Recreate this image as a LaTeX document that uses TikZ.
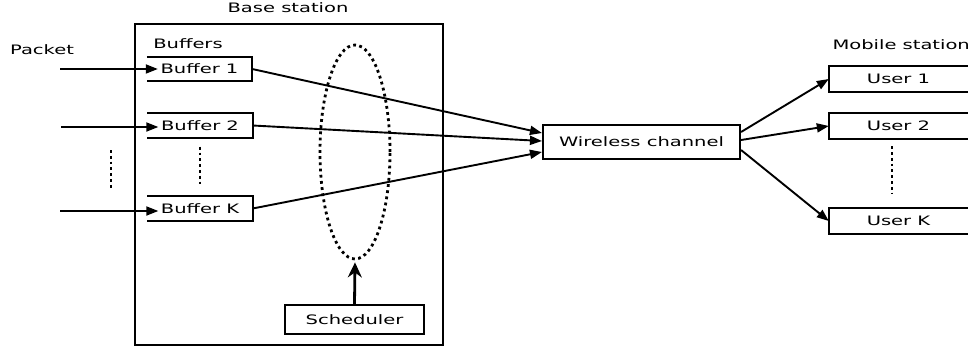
\documentclass[tikz,border=0pt]{standalone}
\usepackage{fontspec}
\setmainfont{DejaVu Sans}[FakeStretch=1.5]
\usetikzlibrary{arrows.meta,positioning,shapes.geometric}

\begin{document}
\begin{tikzpicture}[
    x=1pt, y=-1pt,
    font=\fontsize{13}{15}\selectfont,
    plainbox/.style={draw, line width=2.1pt, inner sep=0pt},
    bufbox/.style={inner sep=0pt, minimum width=105pt, minimum height=24pt},
    userbox/.style={inner sep=0pt, minimum width=139pt, minimum height=26pt},
    arrow/.style={-{Triangle[length=12pt,width=9pt]}, line width=1.9pt},
    vdots/.style={line width=2.8pt, dash pattern=on 2.8pt off 3pt}
]
\useasboundingbox (0,0) rectangle (968,350);

% base station
\node[plainbox, line width=2.5pt, minimum width=308pt, minimum height=321pt] (bs) at (289,184.5) {};
\node (bslabel) at (288,8) {Base station};
\node (packet) at (42,50) {Packet};
\node (buffers) at (188,44) {Buffers};

% buffers (open on the left)
\node[bufbox] (b1) at (199.5,69) {Buffer 1};
\node[bufbox] (b2) at (200,125.5) {Buffer 2};
\node[bufbox] (bK) at (200,208.5) {Buffer K};
\foreach \b in {b1,b2,bK}
  \draw[line width=2.1pt] (\b.north west) -- (\b.north east) -- (\b.south east) -- (\b.south west);

% scheduler
\node[ellipse, draw, line width=2.8pt, dash pattern=on 2.8pt off 3.4pt,
      minimum width=70pt, minimum height=214pt, inner sep=0pt] (sel) at (355,152) {};
\node[plainbox, minimum width=139pt, minimum height=29pt] (sched) at (354.5,319.5) {Scheduler};
\draw[-{Stealth[length=15pt,width=14pt,inset=5pt]}, line width=2.8pt] (sched.north) -- ([yshift=-2pt]sel.south);

% channel and users
\node[plainbox, minimum width=197pt, minimum height=34pt] (wc) at (641.5,142) {Wireless channel};
\node[anchor=west] (mslabel) at (829,45) {Mobile station};
\node[userbox] (u1) at (898.5,79) {User 1};
\node[userbox] (u2) at (898.5,126) {User 2};
\node[userbox] (uK) at (898.5,221) {User K};
\foreach \u in {u1,u2,uK}
  \draw[line width=2.1pt] (\u.north east) -- (\u.north west) -- (\u.south west) -- (\u.south east);

% incoming packets
\coordinate (in1) at (60,69);
\coordinate (in2) at (61,127);
\coordinate (inK) at (60,211);
\draw[arrow] (in1) -- ([xshift=11pt]b1.west);
\draw[arrow] (in2) -- ([xshift=11pt,yshift=-1.5pt]b2.west);
\draw[arrow] (inK) -- ([xshift=11pt,yshift=-2.5pt]bK.west);

% dots
\draw[vdots] (111,150) -- (111,188);
\draw[vdots, shorten <=9pt, shorten >=12pt] (b2.south) -- (bK.north);
\draw[vdots, shorten <=7pt, shorten >=15pt] ([xshift=-6.5pt]u2.south) -- ([xshift=-6.5pt]uK.north);

% links
\draw[arrow] (b1.east) -- ([yshift=9pt]wc.west);
\draw[arrow] (b2.east) -- ([yshift=1pt]wc.west);
\draw[arrow] (bK.east) -- ([yshift=-10pt]wc.west);
\draw[arrow] ([yshift=10pt]wc.east) -- (u1.west);
\draw[arrow] ([yshift=2pt]wc.east) -- (u2.west);
\draw[arrow] ([yshift=-8pt]wc.east) -- (uK.west);
\end{tikzpicture}
\end{document}
